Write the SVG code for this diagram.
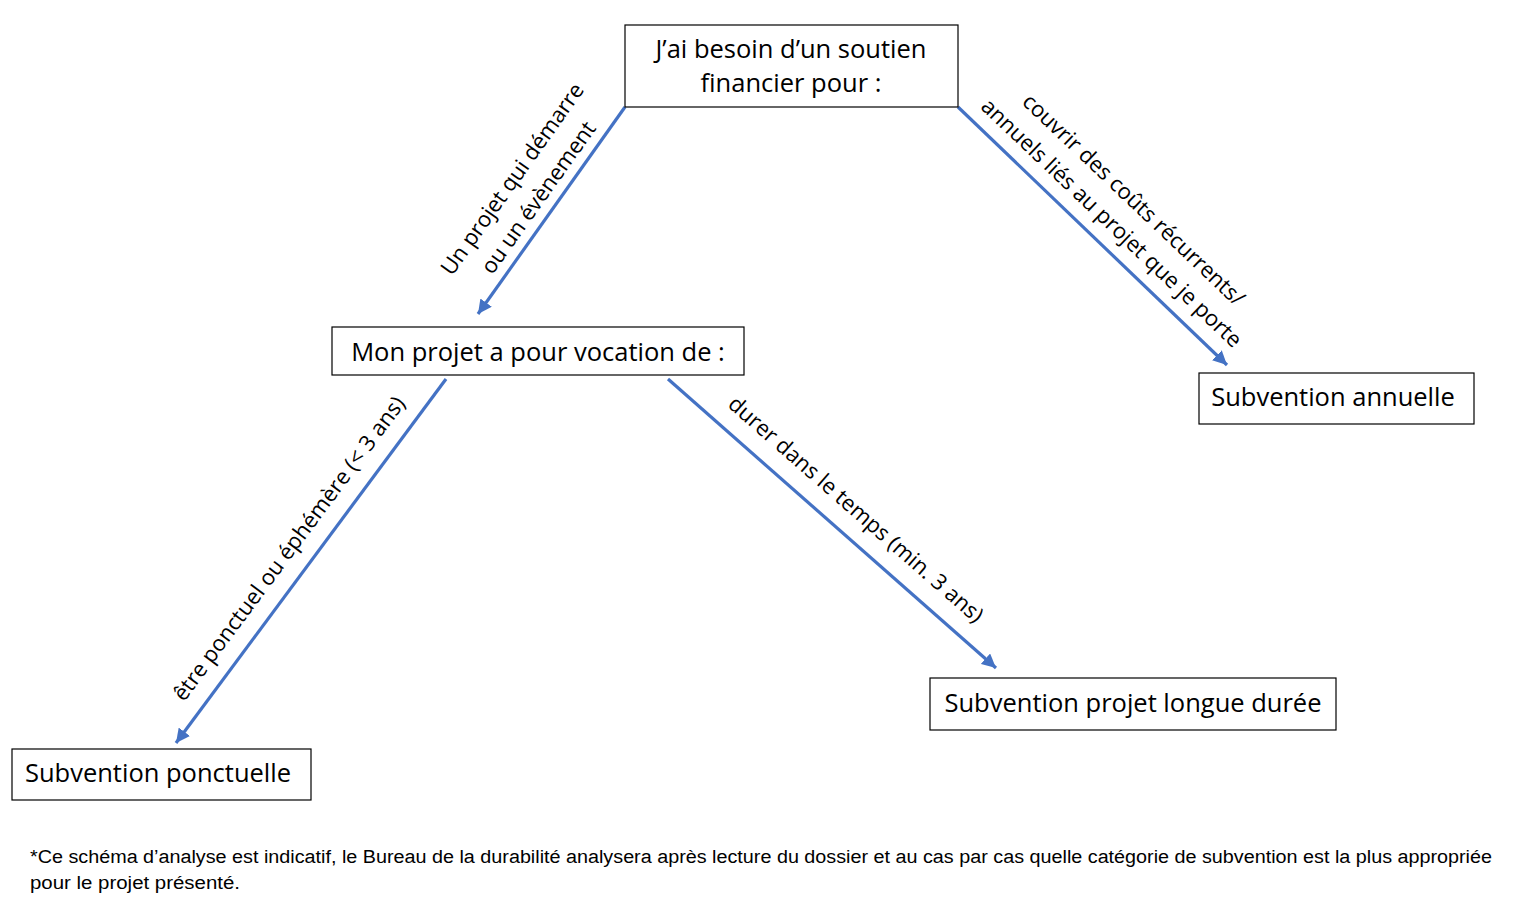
<svg xmlns="http://www.w3.org/2000/svg" width="1525" height="917" viewBox="0 0 1525 917">
<style>
.box{fill:#fff;stroke:#000;stroke-width:1.2}
.t{font-family:"Open Sans","Noto Sans",sans-serif;font-size:25.5px;fill:#000}
.c{text-anchor:middle}
.lbl{font-family:"Open Sans","Noto Sans",sans-serif;font-size:22px;fill:#000;text-anchor:middle}
.con{stroke:#4472C4;stroke-width:3.2;fill:none;marker-end:url(#ah)}
.foot{font-family:"Liberation Sans",Arial,sans-serif;font-size:18px;fill:#000}
</style>
<defs>
<marker id="ah" markerUnits="userSpaceOnUse" markerWidth="16" markerHeight="14" refX="14" refY="7" orient="auto">
<path d="M0,0 L14,7 L0,14 Z" fill="#4472C4"/>
</marker>
</defs>
<rect width="1525" height="917" fill="#fff"/>
<g id="connectors">
<line class="con" x1="625" y1="107" x2="478" y2="314"/>
<line class="con" x1="958" y1="107" x2="1227" y2="365"/>
<line class="con" x1="446" y1="379" x2="176" y2="743"/>
<line class="con" x1="668" y1="379" x2="996" y2="668"/>
</g>
<g id="labels">
<text class="lbl" transform="translate(525,188) rotate(-54.6)"><tspan x="0" y="-8">Un projet qui démarre</tspan><tspan x="0" y="24">ou un évènement</tspan></text>
<text class="lbl" transform="translate(1123,211) rotate(43.5)"><tspan x="0" y="-8">couvrir des coûts récurrents/</tspan><tspan x="0" y="24">annuels liés au projet que je porte</tspan></text>
<text class="lbl" transform="translate(295,553) rotate(-53.4)"><tspan x="0" y="0">être ponctuel ou éphémère (&lt; 3 ans)</tspan></text>
<text class="lbl" transform="translate(851,515) rotate(41.2)"><tspan x="0" y="0">durer dans le temps (min. 3 ans)</tspan></text>
</g>
<g id="n-besoin">
<rect class="box" x="625" y="25" width="333" height="82"/>
<text class="t c" x="791" y="58">J’ai besoin d’un soutien</text>
<text class="t c" x="791" y="92">financier pour :</text>
</g>
<g id="n-vocation">
<rect class="box" x="332" y="327" width="412" height="48"/>
<text class="t c" x="538" y="361">Mon projet a pour vocation de :</text>
</g>
<g id="n-annuelle">
<rect class="box" x="1199" y="373" width="275" height="51"/>
<text class="t c" x="1333" y="406">Subvention annuelle</text>
</g>
<g id="n-ponctuelle">
<rect class="box" x="12" y="749" width="299" height="51"/>
<text class="t c" x="158" y="782">Subvention ponctuelle</text>
</g>
<g id="n-longue">
<rect class="box" x="930" y="678" width="406" height="52"/>
<text class="t c" x="1133" y="712">Subvention projet longue durée</text>
</g>
<g id="footnote">
<text class="foot" x="30" y="863" textLength="1462" lengthAdjust="spacingAndGlyphs">*Ce schéma d’analyse est indicatif, le Bureau de la durabilité analysera après lecture du dossier et au cas par cas quelle catégorie de subvention est la plus appropriée</text>
<text class="foot" x="30" y="889" textLength="210" lengthAdjust="spacingAndGlyphs">pour le projet présenté.</text>
</g>
</svg>
